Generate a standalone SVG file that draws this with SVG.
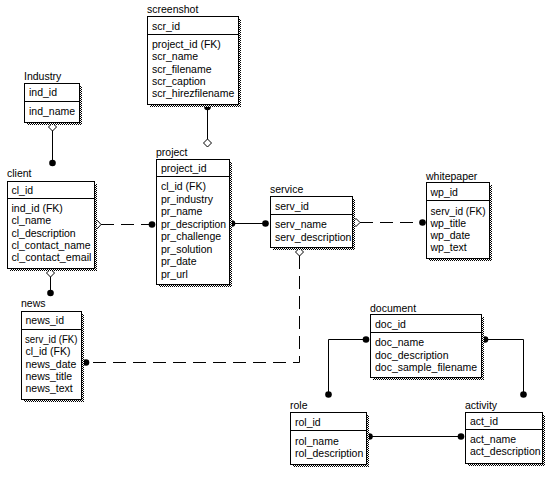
<svg xmlns="http://www.w3.org/2000/svg" width="550" height="500" viewBox="0 0 550 500">
<style>
text{font-family:"Liberation Sans",Arial,sans-serif;font-size:10.5px;fill:#000}
.box{fill:#fff;stroke:#000;stroke-width:1}
.sh{fill:url(#chk)}
.sep{stroke:#000;stroke-width:1}
.ln{fill:none;stroke:#000;stroke-width:1}
.dash{fill:none;stroke:#000;stroke-width:1;stroke-dasharray:13 7}
.dot{fill:#000}
.dia{fill:#fff;stroke:#000;stroke-width:1}
</style>
<defs>
<pattern id="chk" width="2" height="2" patternUnits="userSpaceOnUse">
<rect width="2" height="2" fill="#fff"/>
<rect width="1" height="1" fill="#000"/>
<rect x="1" y="1" width="1" height="1" fill="#000"/>
</pattern>
</defs>
<rect width="550" height="500" fill="#fff"/>

<g id="connectors">
<!-- industry - client -->
<line class="ln" x1="52.5" y1="130" x2="52.5" y2="163"/>
<circle class="dot" cx="52.5" cy="163" r="3.3"/>
<path class="dia" d="M52.5,123 L56.5,127 L52.5,131 L48.5,127 Z"/>
<!-- screenshot - project -->
<line class="ln" x1="207.5" y1="105" x2="207.5" y2="139"/>
<circle class="dot" cx="207.5" cy="107" r="3.3"/>
<path class="dia" d="M207.5,139 L211.5,143 L207.5,147 L203.5,143 Z"/>
<!-- client - project -->
<line class="dash" x1="101" y1="224.5" x2="150" y2="224.5"/>
<path class="dia" d="M94,224.5 L97.5,220.5 L101,224.5 L97.5,228.5 Z"/>
<circle class="dot" cx="152" cy="224.5" r="3.3"/>
<!-- project - service -->
<line class="ln" x1="232" y1="223.5" x2="266" y2="223.5"/>
<circle class="dot" cx="232" cy="223.5" r="3.3"/>
<circle class="dot" cx="265.5" cy="223.5" r="3.3"/>
<!-- service - whitepaper -->
<line class="dash" x1="360" y1="222.5" x2="421" y2="222.5"/>
<path class="dia" d="M352,222.5 L356,218.5 L360,222.5 L356,226.5 Z"/>
<circle class="dot" cx="422.5" cy="222.5" r="3.3"/>
<!-- service - news -->
<path class="dash" d="M299.5,256 L299.5,362.5 L87,362.5"/>
<path class="dia" d="M299.5,248 L303.5,252 L299.5,256 L295.5,252 Z"/>
<circle class="dot" cx="86" cy="362.5" r="3.3"/>
<!-- client - news -->
<line class="ln" x1="50.5" y1="277" x2="50.5" y2="293"/>
<path class="dia" d="M50.5,269 L54.5,273 L50.5,277 L46.5,273 Z"/>
<circle class="dot" cx="50.5" cy="293" r="3.3"/>
<!-- document - role -->
<path class="ln" d="M366,339.5 L328.5,339.5 L328.5,394"/>
<circle class="dot" cx="366" cy="339.5" r="3.3"/>
<circle class="dot" cx="328.5" cy="394.5" r="3.3"/>
<!-- document - activity -->
<path class="ln" d="M485,339.5 L523.5,339.5 L523.5,394"/>
<circle class="dot" cx="485" cy="339.5" r="3.3"/>
<circle class="dot" cx="523.5" cy="394.5" r="3.3"/>
<!-- role - activity -->
<line class="ln" x1="369.5" y1="436.5" x2="461" y2="436.5"/>
<circle class="dot" cx="369.5" cy="436.5" r="3.3"/>
<circle class="dot" cx="461" cy="436.5" r="3.3"/>
</g>

<g id="industry">
<text x="24" y="80">Industry</text>
<rect class="sh" x="27" y="86" width="55" height="39"/>
<rect class="box" x="24.5" y="83.5" width="55" height="39"/>
<line class="sep" x1="24.5" y1="101.5" x2="79.5" y2="101.5"/>
<text x="29" y="96">ind_id</text>
<text x="29" y="115">ind_name</text>
</g>

<g id="screenshot">
<text x="147" y="13">screenshot</text>
<rect class="sh" x="150" y="19" width="91" height="88"/>
<rect class="box" x="147.5" y="16.5" width="91" height="88"/>
<line class="sep" x1="147.5" y1="34.5" x2="238.5" y2="34.5"/>
<text x="152" y="29.5">scr_id</text>
<text x="152" y="48">project_id (FK)</text>
<text x="152" y="60.3">scr_name</text>
<text x="152" y="72.6">scr_filename</text>
<text x="152" y="84.9">scr_caption</text>
<text x="152" y="97.2">scr_hirezfilename</text>
</g>

<g id="project">
<text x="156" y="156">project</text>
<rect class="sh" x="159" y="162" width="73" height="125"/>
<rect class="box" x="156.5" y="159.5" width="73" height="125"/>
<line class="sep" x1="156.5" y1="176.5" x2="229.5" y2="176.5"/>
<text x="161" y="172">project_id</text>
<text x="161" y="190">cl_id (FK)</text>
<text x="161" y="202.5">pr_industry</text>
<text x="161" y="215">pr_name</text>
<text x="161" y="227.5" textLength="65" lengthAdjust="spacingAndGlyphs">pr_description</text>
<text x="161" y="240">pr_challenge</text>
<text x="161" y="252.5">pr_solution</text>
<text x="161" y="265">pr_date</text>
<text x="161" y="277.5">pr_url</text>
</g>

<g id="client">
<text x="7" y="177">client</text>
<rect class="sh" x="10" y="184" width="87" height="87"/>
<rect class="box" x="7.5" y="181.5" width="87" height="87"/>
<line class="sep" x1="7.5" y1="198.5" x2="94.5" y2="198.5"/>
<text x="11.5" y="194">cl_id</text>
<text x="11.5" y="212">ind_id (FK)</text>
<text x="11.5" y="224.3">cl_name</text>
<text x="11.5" y="236.6">cl_description</text>
<text x="11.5" y="248.9" textLength="79" lengthAdjust="spacingAndGlyphs">cl_contact_name</text>
<text x="11.5" y="261.2" textLength="80" lengthAdjust="spacingAndGlyphs">cl_contact_email</text>
</g>

<g id="service">
<text x="270" y="193">service</text>
<rect class="sh" x="273" y="199" width="82" height="51"/>
<rect class="box" x="270.5" y="196.5" width="82" height="51"/>
<line class="sep" x1="270.5" y1="214.5" x2="352.5" y2="214.5"/>
<text x="275" y="209.5">serv_id</text>
<text x="275" y="227.5">serv_name</text>
<text x="275" y="240.5">serv_description</text>
</g>

<g id="whitepaper">
<text x="426" y="180">whitepaper</text>
<rect class="sh" x="429" y="185" width="63" height="76"/>
<rect class="box" x="426.5" y="182.5" width="63" height="76"/>
<line class="sep" x1="426.5" y1="200.5" x2="489.5" y2="200.5"/>
<text x="430.5" y="196">wp_id</text>
<text x="430.5" y="214.5" textLength="55" lengthAdjust="spacingAndGlyphs">serv_id (FK)</text>
<text x="430.5" y="226.8">wp_title</text>
<text x="430.5" y="239.1">wp_date</text>
<text x="430.5" y="251.4">wp_text</text>
</g>

<g id="news">
<text x="21" y="307">news</text>
<rect class="sh" x="24" y="314" width="60" height="88"/>
<rect class="box" x="21.5" y="311.5" width="60" height="88"/>
<line class="sep" x1="21.5" y1="329.5" x2="81.5" y2="329.5"/>
<text x="25.5" y="324">news_id</text>
<text x="25" y="343" textLength="52.5" lengthAdjust="spacingAndGlyphs">serv_id (FK)</text>
<text x="25.5" y="355.3">cl_id (FK)</text>
<text x="25.5" y="367.6">news_date</text>
<text x="25.5" y="379.9">news_title</text>
<text x="25.5" y="392.2">news_text</text>
</g>

<g id="document">
<text x="370" y="312">document</text>
<rect class="sh" x="373" y="317" width="111" height="63"/>
<rect class="box" x="370.5" y="314.5" width="111" height="63"/>
<line class="sep" x1="370.5" y1="332.5" x2="481.5" y2="332.5"/>
<text x="375" y="328">doc_id</text>
<text x="375" y="346">doc_name</text>
<text x="375" y="358.5">doc_description</text>
<text x="375" y="371">doc_sample_filename</text>
</g>

<g id="role">
<text x="290" y="409">role</text>
<rect class="sh" x="293" y="415" width="76" height="52"/>
<rect class="box" x="290.5" y="412.5" width="76" height="52"/>
<line class="sep" x1="290.5" y1="430.5" x2="366.5" y2="430.5"/>
<text x="295" y="425.5">rol_id</text>
<text x="295" y="444.5">rol_name</text>
<text x="295" y="456.8">rol_description</text>
</g>

<g id="activity">
<text x="465" y="409">activity</text>
<rect class="sh" x="468" y="415" width="77" height="51"/>
<rect class="box" x="465.5" y="412.5" width="77" height="51"/>
<line class="sep" x1="465.5" y1="429.5" x2="542.5" y2="429.5"/>
<text x="470" y="425">act_id</text>
<text x="470" y="443">act_name</text>
<text x="470" y="455.3">act_description</text>
</g>
</svg>
